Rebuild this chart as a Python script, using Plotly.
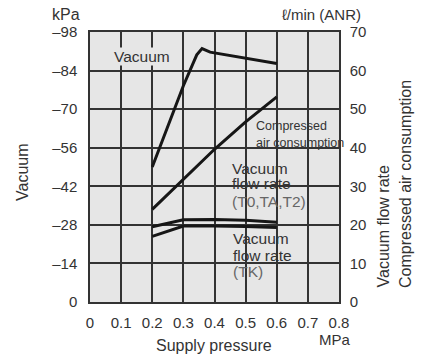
import plotly.graph_objects as go

# ---- data ----
pressure_vac = [0.2, 0.3, 0.343, 0.36, 0.386, 0.6]          # MPa
vacuum_kpa = [-49, -78.5, -89.7, -92, -90.7, -86.6]          # kPa

pressure = [0.2, 0.3, 0.4, 0.5, 0.6]                          # MPa
air_consumption = [24, 31.8, 39.6, 46.7, 53.2]               # l/min (ANR)
flow_t0_ta_t2 = [19.5, 21.3, 21.4, 21.2, 20.7]               # l/min (ANR)
flow_tk = [17.0, 19.7, 19.7, 19.6, 19.3]                     # l/min (ANR)

x_ticks = [0, 0.1, 0.2, 0.3, 0.4, 0.5, 0.6, 0.7, 0.8]
x_tick_labels = ["0", "0.1", "0.2", "0.3", "0.4", "0.5", "0.6", "0.7", "0.8"]
vac_ticks = [0, -14, -28, -42, -56, -70, -84, -98]
vac_tick_labels = ["0", "–14", "–28", "–42", "–56", "–70", "–84", "–98"]
flow_ticks = [0, 10, 20, 30, 40, 50, 60, 70]
flow_tick_labels = ["0", "10", "20", "30", "40", "50", "60", "70"]

# ---- layout geometry ----
W, H = 426, 360
L, R, T, B = 90, 339, 32, 302
FONT = "Liberation Sans, Arial, sans-serif"
TXT = "#333333"
GRID = "#333333"
BG = "#e6e6e6"


def px(x):
    return (x - L) / (R - L)


def py(y):
    return (B - y) / (B - T)


fig = go.Figure()
line_style = dict(color="#161616", width=3)
fig.add_trace(go.Scatter(x=pressure_vac, y=vacuum_kpa, mode="lines", line=line_style,
                         yaxis="y", showlegend=False, name="Vacuum"))
fig.add_trace(go.Scatter(x=pressure, y=air_consumption, mode="lines", line=line_style,
                         yaxis="y2", showlegend=False, name="Compressed air consumption"))
fig.add_trace(go.Scatter(x=pressure, y=flow_t0_ta_t2, mode="lines", line=line_style,
                         yaxis="y2", showlegend=False, name="Vacuum flow rate (T0,TA,T2)"))
fig.add_trace(go.Scatter(x=pressure, y=flow_tk, mode="lines", line=line_style,
                         yaxis="y2", showlegend=False, name="Vacuum flow rate (TK)"))

axis_common = dict(showline=True, linecolor=GRID, linewidth=1.5, ticks="",
                   zeroline=False, tickfont=dict(family=FONT, size=15, color=TXT))

fig.update_layout(
    width=W, height=H,
    margin=dict(l=L, r=W - R, t=T, b=H - B, pad=0),
    paper_bgcolor="white", plot_bgcolor=BG,
    font=dict(family=FONT, color=TXT),
    showlegend=False,
    xaxis=dict(range=[0, 0.8], tickvals=x_ticks, ticktext=x_tick_labels,
               showgrid=True, gridcolor=GRID, gridwidth=1.5, mirror=True,
               ticklabelstandoff=6, **axis_common),
    yaxis=dict(range=[0, -98], tickvals=vac_ticks, ticktext=vac_tick_labels,
               showgrid=True, gridcolor=GRID, gridwidth=1.5, mirror=True,
               ticklabelstandoff=8, **axis_common),
    yaxis2=dict(range=[0, 70], tickvals=flow_ticks, ticktext=flow_tick_labels,
                overlaying="y", side="right", showgrid=False,
                ticklabelstandoff=6, **axis_common),
)

ann = []


def text(s, x, y, size=15, xa="left", ya="middle", color=TXT, angle=0, bg=None):
    d = dict(text=s, x=px(x), y=py(y), xref="paper", yref="paper", showarrow=False,
             xanchor=xa, yanchor=ya, textangle=angle,
             font=dict(family=FONT, size=size, color=color))
    if bg:
        d["bgcolor"] = bg
        d["borderpad"] = 0
    ann.append(d)


# axis units / titles
text("kPa", 66, 14, size=16, xa="center")
text("ℓ/min (ANR)", 321, 14, size=15, xa="center")
text("Vacuum", 22, 172, size=16, xa="center", ya="middle", angle=-90)
text("Vacuum flow rate", 383, 290, size=16, xa="center", ya="bottom", angle=-90)
text("Compressed air consumption", 405, 290, size=16, xa="center", ya="bottom", angle=-90)
text("Supply pressure", 214, 345, size=16, xa="center")
text("MPa", 335, 339, size=15, xa="center")

# in-plot labels
text("Vacuum", 141.5, 56, size=15.5, xa="center", bg=BG)
text("Compressed", 254, 126, size=12.5)
text("air consumption", 254, 143, size=12.5)
text("Vacuum", 230, 168, size=15.5)
text("flow rate", 230, 184, size=15.5)
text("(T0,TA,T2)", 230, 201, size=15.5, color="#666666")
text("Vacuum", 231, 239, size=15.5)
text("flow rate", 231, 255, size=15.5)
text("(TK)", 231, 271, size=15.5, color="#666666")

fig.update_layout(annotations=ann)
fig.write_html("out.html",
               config={"displayModeBar": False},
               post_script="document.body.style.margin='0px';document.body.style.padding='0px';")
